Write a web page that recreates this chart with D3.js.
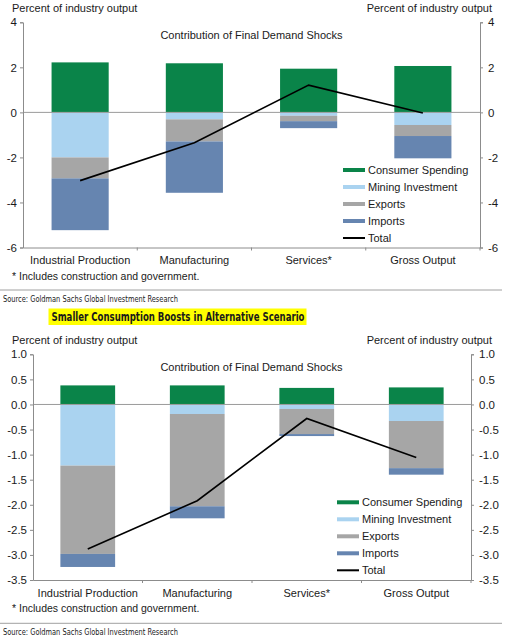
<!DOCTYPE html>
<html>
<head>
<meta charset="utf-8">
<script src="https://cdn.jsdelivr.net/npm/d3@7"></script>
<style>
  body { margin: 0; background: #fff; }
  text { font-family: "Liberation Sans", Arial, sans-serif; fill: #1a1a1a; }
</style>
</head>
<body>
<div id="container"></div>
<script>
const categories = ["Industrial Production", "Manufacturing", "Services*", "Gross Output"]
const seriesNames = ["Consumer Spending", "Mining Investment", "Exports", "Imports"]
const seriesColors = ["#0a8449", "#aad3f0", "#a6a6a6", "#6685b0"]

// top chart: baseline scenario
const consumer1 = [2.22, 2.18, 1.94, 2.06]
const mining1 = [-2.0, -0.31, -0.15, -0.56]
const exports1 = [-0.93, -0.98, -0.24, -0.49]
const imports1 = [-2.3, -2.28, -0.31, -0.99]
const total1 = [-3.03, -1.35, 1.21, -0.03]
const ticks1 = [4, 2, 0, -2, -4, -6]

// bottom chart: alternative scenario
const consumer2 = [0.38, 0.38, 0.33, 0.34]
const mining2 = [-1.22, -0.19, -0.09, -0.33]
const exports2 = [-1.76, -1.84, -0.50, -0.94]
const imports2 = [-0.26, -0.24, -0.04, -0.13]
const total2 = [-2.88, -1.92, -0.28, -1.06]
const ticks2 = [1.0, 0.5, 0.0, -0.5, -1.0, -1.5, -2.0, -2.5, -3.0, -3.5]

const width = 505
const height = 640

const svg = d3.create("svg")
    .attr("width", width)
    .attr("height", height)

function chart(opt){
    const rows = categories.map((c, i) => ({
        cat: c,
        "Consumer Spending": opt.consumer[i],
        "Mining Investment": opt.mining[i],
        "Exports": opt.exports[i],
        "Imports": opt.imports[i],
        total: opt.total[i]
    }))

    const y = d3.scaleLinear()
        .domain([opt.ticks[opt.ticks.length - 1], opt.ticks[0]])
        .range([opt.bottom, opt.top])

    const x = d3.scaleBand()
        .domain(categories)
        .range([opt.left, opt.right])
        .paddingInner(0.5)
        .paddingOuter(0.25)

    const g = svg.append("g")

    // axis titles
    g.append("text")
        .attr("x", 12).attr("y", opt.top - 10)
        .style("font-size", "11px")
        .text("Percent of industry output")
    g.append("text")
        .attr("x", 492).attr("y", opt.top - 10)
        .attr("text-anchor", "end")
        .style("font-size", "11px")
        .text("Percent of industry output")

    const stack = d3.stack()
        .keys(seriesNames)
        .offset(d3.stackOffsetDiverging)(rows)

    g.append("g").selectAll("g")
        .data(stack)
        .join("g")
        .attr("fill", (d, i) => seriesColors[i])
        .selectAll("rect")
        .data(d => d)
        .join("rect")
        .attr("x", d => x(d.data.cat))
        .attr("width", x.bandwidth())
        .attr("y", d => y(Math.max(d[0], d[1])))
        .attr("height", d => Math.abs(y(d[0]) - y(d[1])))

    // zero line
    g.append("line")
        .attr("x1", opt.left).attr("x2", opt.right)
        .attr("y1", y(0)).attr("y2", y(0))
        .attr("stroke", "#9a9a9a")

    const fmt = opt.fmt
    const left = g.append("g")
        .attr("transform", `translate(${opt.left},0)`)
        .call(d3.axisLeft(y).tickValues(opt.ticks).tickSize(3).tickPadding(3).tickFormat(fmt))
    const right = g.append("g")
        .attr("transform", `translate(${opt.right},0)`)
        .call(d3.axisRight(y).tickValues(opt.ticks).tickSize(3).tickPadding(5).tickFormat(fmt))
    ;[left, right].forEach(a => {
        a.select(".domain").attr("stroke", "#8c8c8c")
        a.selectAll(".tick line").attr("stroke", "#8c8c8c")
        a.selectAll("text").style("font-size", "11.5px").attr("fill", "#1a1a1a")
            .style("font-family", "'Liberation Sans', Arial, sans-serif")
    })

    const bottom = g.append("g")
        .attr("transform", `translate(0,${opt.bottom})`)
        .call(d3.axisBottom(x).tickSize(0).tickPadding(9))
    bottom.select(".domain").attr("stroke", "#8c8c8c")
    bottom.selectAll("text").style("font-size", "11px").attr("fill", "#1a1a1a")
        .style("font-family", "'Liberation Sans', Arial, sans-serif")

    // category boundary ticks
    g.append("g").selectAll("line")
        .data(categories)
        .join("line")
        .attr("x1", d => x(d) + x.bandwidth() + x.step() * 0.25)
        .attr("x2", d => x(d) + x.bandwidth() + x.step() * 0.25)
        .attr("y1", opt.bottom).attr("y2", opt.bottom + 3)
        .attr("stroke", "#8c8c8c")

    // total line
    const line = d3.line()
        .x(d => x(d.cat) + x.bandwidth() / 2)
        .y(d => y(d.total))
    g.append("path")
        .datum(rows)
        .attr("d", line)
        .attr("fill", "none")
        .attr("stroke", "#000")
        .attr("stroke-width", 1.6)

    // title
    g.append("text")
        .attr("x", 251.5).attr("y", opt.top + 17)
        .attr("text-anchor", "middle")
        .style("font-size", "11px")
        .attr("fill", "#333")
        .text("Contribution of Final Demand Shocks")

    // legend
    const legend = g.append("g")
        .attr("transform", `translate(${opt.legendX},${opt.legendY})`)
    const items = seriesNames.concat(["Total"])
    const li = legend.selectAll("g")
        .data(items)
        .join("g")
        .attr("transform", (d, i) => `translate(0,${i * 17})`)
    li.append("rect")
        .attr("x", 0).attr("y", d => d == "Total" ? -1 : -2)
        .attr("width", 22)
        .attr("height", d => d == "Total" ? 2 : 4)
        .attr("fill", (d, i) => i < 4 ? seriesColors[i] : "#000")
    li.append("text")
        .attr("x", 25).attr("y", 4)
        .style("font-size", "11px")
        .text(d => d)

    // footnote
    g.append("text")
        .attr("x", 12).attr("y", opt.bottom + 32)
        .style("font-size", "10.5px")
        .text("* Includes construction and government.")

    // separator and source
    g.append("line")
        .attr("x1", 0).attr("x2", 502)
        .attr("y1", opt.sepY).attr("y2", opt.sepY)
        .attr("stroke", "#a0a0a0")
    g.append("text")
        .attr("x", 3).attr("y", opt.sepY + 12)
        .attr("textLength", 175)
        .attr("lengthAdjust", "spacingAndGlyphs")
        .style("font-size", "9.5px")
        .style("font-family", "'Liberation Sans Narrow', 'DejaVu Sans Condensed', sans-serif")
        .attr("fill", "#7a7a7a")
        .text("Source: Goldman Sachs Global Investment Research")
}

chart({
    consumer: consumer1, mining: mining1, exports: exports1, imports: imports1, total: total1,
    ticks: ticks1, fmt: d => String(d),
    top: 22.3, bottom: 247.5, left: 23, right: 480,
    legendX: 343, legendY: 170, sepY: 290
})

chart({
    consumer: consumer2, mining: mining2, exports: exports2, imports: imports2, total: total2,
    ticks: ticks2, fmt: d => d.toFixed(1),
    top: 354.3, bottom: 580, left: 33, right: 471,
    legendX: 337, legendY: 502.3, sepY: 623.3
})

// highlighted heading between the two charts
svg.append("rect")
    .attr("x", 48.5).attr("y", 308.5)
    .attr("width", 258).attr("height", 16.5)
    .attr("fill", "#ffff00")
svg.append("text")
    .attr("x", 51.5).attr("y", 320.8)
    .attr("textLength", 253)
    .attr("lengthAdjust", "spacingAndGlyphs")
    .style("font-size", "12px")
    .style("font-weight", "bold")
    .style("font-family", "'Liberation Sans Narrow', 'DejaVu Sans Condensed', sans-serif")
    .attr("fill", "#1a1a1a")
    .text("Smaller Consumption Boosts in Alternative Scenario")

document.querySelector("#container").appendChild(svg.node())
</script>
</body>
</html>
